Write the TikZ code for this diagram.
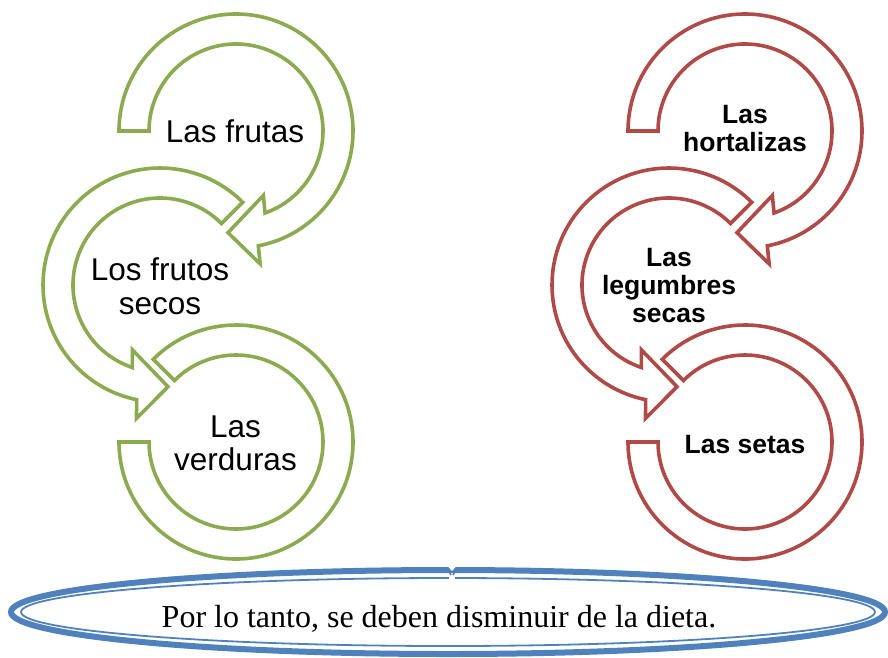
\documentclass[tikz,border=0pt]{standalone}
\usepackage{fontspec}
\setmainfont{Liberation Serif}
\newfontfamily\sansf{Liberation Sans}
\definecolor{grn}{RGB}{140,170,80}
\definecolor{redc}{RGB}{176,74,71}
\definecolor{bluc}{RGB}{79,129,189}
\tikzset{
  band/.style={line width=3.6pt, line join=miter, miter limit=10, fill=white},
  gtext/.style={font=\sansf\fontsize{31.5}{33.5}\selectfont, align=center, inner sep=0pt},
  rtext/.style={font=\sansf\bfseries\fontsize{26.5}{28}\selectfont, align=center, inner sep=0pt},
  concl/.style={font=\fontsize{32}{34}\selectfont, inner sep=0pt},
}
\newcommand\drawcycle[1]{%
  \begin{scope}[shift={(236,-442)}]
    \draw[band,draw=#1] (180:117pt) arc[start angle=180,end angle=495,radius=117pt]
      -- (135:87pt) arc[start angle=135,end angle=-180,radius=87pt] -- cycle;
  \end{scope}
  \begin{scope}[shift={(160,-285)}]
    \draw[band,draw=#1] (45:117pt) arc[start angle=45,end angle=258.5,radius=117pt]
      -- (260:135.5pt) -- (274.5:102pt) -- (247:70.5pt) -- (251.5:87pt)
      arc[start angle=251.5,end angle=45,radius=87pt] -- cycle;
  \end{scope}
  \begin{scope}[shift={(236,-131)}]
    \draw[band,draw=#1] (180:117pt) arc[start angle=180,end angle=-79,radius=117pt]
      -- (-79.7:135pt) -- (-94.5:102pt) -- (-67:70pt) -- (-70.5:87pt)
      arc[start angle=-70.5,end angle=180,radius=87pt] -- cycle;
  \end{scope}
}
\begin{document}
\begin{tikzpicture}[x=1pt,y=1pt]
\useasboundingbox (0,0) rectangle (888,-657);
% green cycle
\drawcycle{grn}
% red cycle
\begin{scope}[xshift=509pt]
\drawcycle{redc}
\end{scope}
% labels
\node[gtext,anchor=base] (frutas) at (235,-142) {Las frutas};
\node[gtext] (frutos) at (160,-286) {Los frutos\\secos};
\node[gtext] (verduras) at (235.5,-443.5) {Las\\verduras};
\node[rtext] (hortalizas) at (745,-129) {Las\\hortalizas};
\node[rtext] (legumbres) at (669,-285.5) {Las\\legumbres\\secas};
\node[rtext,anchor=base] (setas) at (745,-453) {Las setas};
% conclusion ellipse
\draw[bluc, line width=6pt] (448,-612) ellipse [x radius=437pt, y radius=42pt];
\draw[bluc, line width=1.8pt] (448,-612) ellipse [x radius=427pt, y radius=34pt];
\fill[white] (445,-563) -- (459,-563) -- (452,-571) -- cycle;
\fill[white] (449,-576) rectangle (455,-581);
\draw[bluc, line width=1.6pt] (443,-568) to[out=-10,in=120] (451,-575);
\draw[bluc, line width=1.6pt] (461,-568) to[out=190,in=60] (453,-575);
\node[concl,anchor=base] (conclusion) at (439,-627) {Por lo tanto, se deben disminuir de la dieta.};
\end{tikzpicture}
\end{document}
